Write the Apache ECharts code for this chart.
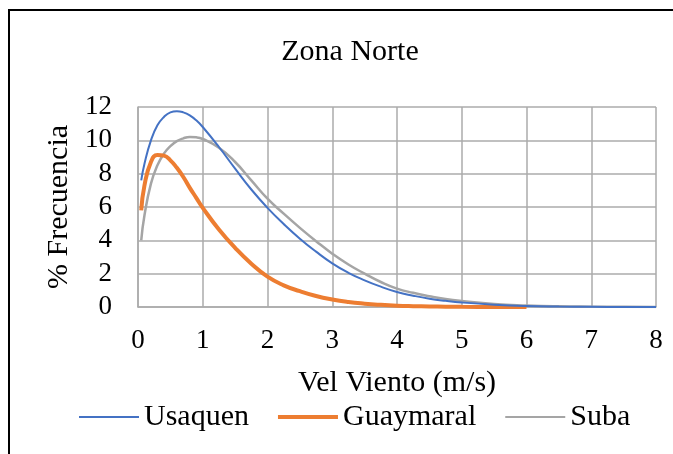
<!DOCTYPE html>
<html>
<head>
<meta charset="utf-8">
<script src="https://cdn.jsdelivr.net/npm/echarts@6/dist/echarts.min.js"></script>
<style>
html,body{margin:0;padding:0;background:#fff;}
#chart{width:673px;height:454px;}
</style>
</head>
<body>
<div id="chart"></div>
<script>
var chartTitle = "Zona Norte";
var xTitle = "Vel Viento (m/s)";
var yTitle = "% Frecuencia";
var seriesNames = ["Usaquen", "Guaymaral", "Suba"];
var seriesColors = ["#4472C4", "#ED7D31", "#A5A5A5"];

var speeds = [0.05, 0.1, 0.2, 0.3, 0.4, 0.5, 0.6, 0.7, 0.8, 0.9, 1.0, 1.25, 1.5, 1.75, 2.0, 2.25, 2.5, 2.75, 3.0, 3.25, 3.5, 3.75, 4.0, 4.25, 4.5, 4.75, 5.0, 5.5, 6.0, 6.5, 7.0, 7.5, 8.0];
var usaquen = [7.6, 8.6, 10.0, 10.9, 11.4, 11.68, 11.75, 11.68, 11.5, 11.2, 10.8, 9.6, 8.3, 7.05, 5.95, 4.98, 4.1, 3.32, 2.62, 2.05, 1.6, 1.22, 0.9, 0.68, 0.5, 0.37, 0.27, 0.14, 0.06, 0.025, 0.01, 0.004, 0];
var guaymaral = [5.8, 7.3, 8.7, 9.12, 9.08, 8.8, 8.35, 7.8, 7.15, 6.55, 5.95, 4.65, 3.55, 2.6, 1.82, 1.3, 0.95, 0.66, 0.45, 0.3, 0.2, 0.13, 0.08, 0.05, 0.03, 0.02, 0.01, 0.004, 0];
var suba = [4.0, 5.5, 7.4, 8.5, 9.2, 9.65, 9.95, 10.12, 10.2, 10.18, 10.08, 9.55, 8.7, 7.6, 6.5, 5.6, 4.75, 3.95, 3.2, 2.55, 2.0, 1.5, 1.1, 0.85, 0.65, 0.48, 0.36, 0.18, 0.09, 0.04, 0.02, 0.008, 0];

function pairs(vals) {
  return vals.map(function (v, i) { return [speeds[i], v]; });
}

var font = "Liberation Serif";
var chart = echarts.init(document.getElementById('chart'), null, {renderer: 'canvas'});
chart.setOption({
  animation: false,
  backgroundColor: '#ffffff',
  title: {
    text: chartTitle,
    left: 345, top: 32, textAlign: 'center',
    textStyle: {fontFamily: font, fontSize: 30, fontWeight: 'normal', color: '#000'}
  },
  graphic: [{
    type: 'rect', shape: {x: 9, y: 10, width: 720, height: 500},
    style: {fill: 'none', stroke: '#000', lineWidth: 2}, silent: true, z: 100
  }],
  legend: {
    left: 74, top: 397,
    itemWidth: 60, itemHeight: 14, itemGap: 29,
    textStyle: {fontFamily: font, fontSize: 30, color: '#000'},
    data: [
      {name: seriesNames[0], icon: 'path://M0,0 L60,0 L60,2 L0,2 Z', itemStyle: {color: seriesColors[0], borderWidth: 0}},
      {name: seriesNames[1], icon: 'path://M0,0 L60,0 L60,4 L0,4 Z', itemStyle: {color: seriesColors[1], borderWidth: 0}},
      {name: seriesNames[2], icon: 'path://M0,0 L60,0 L60,2 L0,2 Z', itemStyle: {color: seriesColors[2], borderWidth: 0}}
    ]
  },
  grid: {left: 138, right: 17, top: 107, bottom: 147, containLabel: false},
  xAxis: {
    type: 'value', min: 0, max: 8, interval: 1,
    name: xTitle, nameLocation: 'middle', nameGap: 61,
    nameTextStyle: {fontFamily: font, fontSize: 30, color: '#000'},
    axisLine: {show: true, lineStyle: {color: '#ababab', width: 1.5}},
    axisTick: {show: false},
    axisLabel: {fontFamily: font, fontSize: 27, color: '#000', margin: 20},
    splitLine: {show: true, lineStyle: {color: '#ababab', width: 1.5}}
  },
  yAxis: {
    type: 'value', min: 0, max: 12, interval: 2,
    name: yTitle, nameLocation: 'middle', nameGap: 64,
    nameTextStyle: {fontFamily: font, fontSize: 30, color: '#000'},
    axisLine: {show: true, lineStyle: {color: '#ababab', width: 1.5}},
    axisTick: {show: false},
    axisLabel: {fontFamily: font, fontSize: 27, color: '#000', margin: 26},
    splitLine: {show: true, lineStyle: {color: '#ababab', width: 1.5}}
  },
  series: [
    {name: seriesNames[0], type: 'line', data: pairs(usaquen), smooth: 0.5, showSymbol: false, symbol: 'none',
     lineStyle: {color: seriesColors[0], width: 2}, itemStyle: {color: seriesColors[0]}, z: 3},
    {name: seriesNames[1], type: 'line', data: pairs(guaymaral), smooth: 0.5, showSymbol: false, symbol: 'none',
     lineStyle: {color: seriesColors[1], width: 4}, itemStyle: {color: seriesColors[1]}, z: 2},
    {name: seriesNames[2], type: 'line', data: pairs(suba), smooth: 0.5, showSymbol: false, symbol: 'none',
     lineStyle: {color: seriesColors[2], width: 2.5}, itemStyle: {color: seriesColors[2]}, z: 1}
  ]
});
</script>
</body>
</html>
